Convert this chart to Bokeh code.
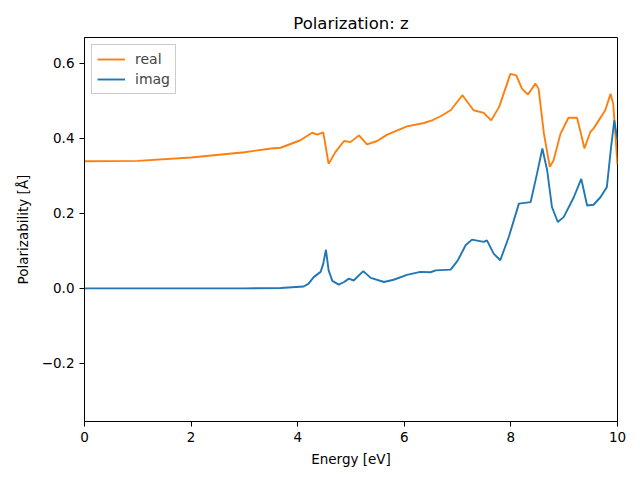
from bokeh.plotting import figure
from bokeh.models import FixedTicker, Legend, LegendItem, Range1d
from bokeh.embed import file_html
from bokeh.resources import INLINE

energy_real = [0.0, 1.0, 2.0, 3.0, 3.5, 3.68, 4.05, 4.27, 4.37, 4.48, 4.58, 4.71, 4.87, 4.99,
               5.15, 5.30, 5.49, 5.68, 6.05, 6.37, 6.52, 6.68, 6.87, 7.09, 7.30, 7.49, 7.63,
               7.78, 7.99, 8.10, 8.21, 8.32, 8.46, 8.52, 8.62, 8.73, 8.80, 8.93, 9.08, 9.24,
               9.30, 9.38, 9.49, 9.55, 9.77, 9.87, 9.92, 10.0]
real = [0.339, 0.340, 0.349, 0.363, 0.373, 0.375, 0.395, 0.415, 0.410, 0.416, 0.332, 0.364,
        0.393, 0.390, 0.408, 0.384, 0.393, 0.410, 0.432, 0.441, 0.448, 0.459, 0.475, 0.515,
        0.475, 0.468, 0.448, 0.484, 0.572, 0.568, 0.532, 0.517, 0.546, 0.532, 0.412, 0.324,
        0.341, 0.412, 0.455, 0.455, 0.421, 0.373, 0.417, 0.426, 0.475, 0.519, 0.492, 0.330]

energy_imag = [0.0, 1.0, 2.0, 3.0, 3.68, 4.11, 4.20, 4.30, 4.43, 4.48, 4.53, 4.58, 4.65, 4.77,
               4.87, 4.96, 5.05, 5.23, 5.37, 5.62, 5.80, 6.05, 6.30, 6.49, 6.59, 6.87, 6.99,
               7.02, 7.15, 7.27, 7.49, 7.55, 7.68, 7.80, 7.96, 8.15, 8.37, 8.49, 8.59, 8.68,
               8.77, 8.88, 8.99, 9.18, 9.32, 9.43, 9.55, 9.68, 9.80, 9.88, 9.94, 10.0]
imag = [0.000, 0.000, 0.000, 0.000, 0.001, 0.005, 0.012, 0.030, 0.044, 0.066, 0.103, 0.048,
        0.020, 0.010, 0.017, 0.026, 0.021, 0.046, 0.028, 0.017, 0.023, 0.036, 0.044, 0.043,
        0.048, 0.050, 0.072, 0.079, 0.115, 0.130, 0.124, 0.128, 0.092, 0.075, 0.137, 0.226,
        0.230, 0.306, 0.373, 0.315, 0.217, 0.177, 0.190, 0.243, 0.292, 0.221, 0.223, 0.243,
        0.270, 0.377, 0.448, 0.395]

x_ticks = [0, 2, 4, 6, 8, 10]
y_ticks = [-0.2, 0.0, 0.2, 0.4, 0.6]
y_tick_labels = {-0.2: "\u22120.2", 0.0: "0.0", 0.2: "0.2", 0.4: "0.4", 0.6: "0.6"}

FONT = "DejaVu Sans"

p = figure(width=632, height=472, output_backend="svg", toolbar_location=None,
           x_range=Range1d(0, 10), y_range=Range1d(-0.355, 0.669),
           title="Polarization: z", min_border_left=84, min_border_right=15,
           min_border_top=37, min_border_bottom=51)
p.frame_width = 533
p.frame_height = 384

p.title.align = "center"
p.title.text_font = FONT
p.title.text_font_size = "16.5px"
p.title.text_font_style = "normal"
p.title.text_color = "black"

p.grid.visible = False
p.outline_line_color = "black"
p.outline_line_width = 1
p.background_fill_color = "white"
p.border_fill_color = "white"

for ax in (p.xaxis[0], p.yaxis[0]):
    ax.axis_line_color = "black"
    ax.major_tick_in = 0
    ax.major_tick_out = 5
    ax.minor_tick_line_color = None
    ax.major_label_text_font = FONT
    ax.major_label_text_font_size = "13.5px"
    ax.major_label_text_color = "black"
    ax.axis_label_text_font = FONT
    ax.axis_label_text_font_size = "13.5px"
    ax.axis_label_text_font_style = "normal"
    ax.axis_label_text_color = "black"

p.xaxis.ticker = FixedTicker(ticks=x_ticks)
p.yaxis.ticker = FixedTicker(ticks=y_ticks)
p.yaxis.major_label_overrides = y_tick_labels
p.xaxis.axis_label = "Energy [eV]"
p.yaxis.axis_label = "Polarizability [Å]"
p.xaxis.axis_label_standoff = 6
p.yaxis.axis_label_standoff = 8

r_real = p.line(energy_real, real, line_color="#ff7f0e", line_width=1.9)
r_imag = p.line(energy_imag, imag, line_color="#1f77b4", line_width=1.9)

legend = Legend(items=[LegendItem(label="real", renderers=[r_real]),
                       LegendItem(label="imag", renderers=[r_imag])],
                location="top_left")
legend.label_text_font = FONT
legend.label_text_font_size = "14px"
legend.label_height = 18
legend.glyph_height = 18
legend.border_line_color = "#cccccc"
legend.border_line_alpha = 1
legend.background_fill_alpha = 0.8
legend.glyph_width = 28
legend.label_standoff = 10
legend.padding = 5
legend.spacing = 2
legend.margin = 7
p.add_layout(legend)

open("out.html", "w").write(file_html(p, INLINE))
